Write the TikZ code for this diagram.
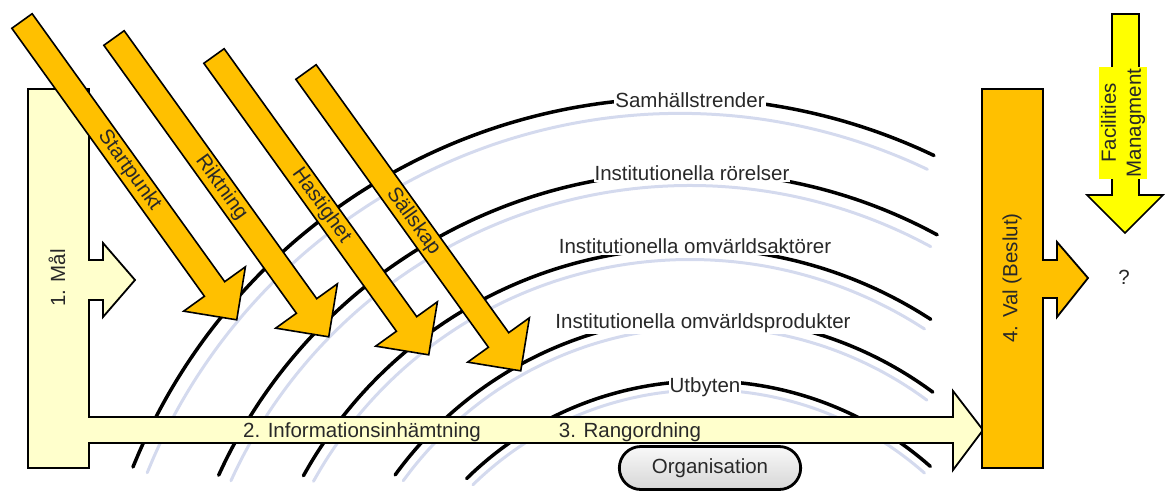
\documentclass[tikz,border=0pt]{standalone}
\usepackage{fontspec}
\setmainfont{Liberation Sans}
\usetikzlibrary{positioning,shapes.misc}
\definecolor{gold}{RGB}{255,192,0}
\definecolor{paleyellow}{RGB}{255,255,204}
\definecolor{signyellow}{RGB}{255,255,0}
\definecolor{shadowblue}{RGB}{212,218,238}
\definecolor{textgrey}{RGB}{40,40,40}
\tikzset{
  ring/.style={line width=3.5pt, line cap=round},
  ringshadow/.style={line width=3pt, draw=shadowblue, line cap=round},
  ringlabel/.style={fill=white, inner xsep=1pt, inner ysep=2pt, anchor=base, text=textgrey},
  goalbox/.style={draw, line width=1.8pt, fill=paleyellow},
  choicebox/.style={draw, line width=1.8pt, fill=gold},
  factor/.style={draw, line width=1.6pt, fill=gold},
  factorlabel/.style={rotate=-54.3, inner sep=0pt, text=textgrey},
  steplabel/.style={anchor=base, inner sep=0pt, text=textgrey},
  fmarrow/.style={draw, line width=1.6pt, fill=signyellow},
  orgbox/.style={rounded rectangle, draw, line width=2.8pt, minimum width=188pt, minimum height=43pt, top color=gray!5, bottom color=gray!32, text=textgrey}
}
% ring: centre x, centre y, radius, start angle, end angle
\newcommand{\ringline}[5]{%
  \draw[ringshadow] plot[smooth, domain=#4:#5, samples=60] ({#1+0.974*#3*cos(\x)}, {#2-0.974*#3*sin(\x)});
  \draw[ring] plot[smooth, domain=#4:#5, samples=60] ({#1+#3*cos(\x)}, {#2-#3*sin(\x)});}

\begin{document}
\begin{tikzpicture}[x=1pt, y=-1pt, font=\fontsize{20.5}{25}\selectfont]
  \useasboundingbox (0,0) rectangle (1170,493);

  % rings
  \ringline{680}{688}{590}{64.5}{158}
  \ringline{690}{690}{518}{61.5}{155.5}
  \ringline{690}{690}{442}{57}{151}
  \ringline{705}{700}{383}{53.5}{144}
  \ringline{705}{721}{340}{48.5}{134.5}

  \node[ringlabel] (trends) at (690,107) {Samhällstrender};
  \node[ringlabel] (moves) at (692,180) {Institutionella rörelser};
  \node[ringlabel] (actors) at (695,253) {Institutionella omvärldsaktörer};
  \node[ringlabel] (products) at (703,328) {Institutionella omvärldsprodukter};
  \node[ringlabel] (exchange) at (705,392) {Utbyten};

  \node[orgbox] (org) at (710,468) {Organisation};

  % goal box with information arrow
  \draw[goalbox] (28,89) -- (89,89) -- (89,260) -- (103,260) -- (103,243) -- (135,280)
    -- (103,317) -- (103,300) -- (89,300) -- (89,417) -- (953,417) -- (953,391)
    -- (983,430) -- (953,470) -- (953,443) -- (89,443) -- (89,468) -- (28,468) -- cycle;
  \node[rotate=90, text=textgrey] (goal) at (57,278) {1. Mål};
  \node[steplabel] (info) at (362,437) {2. Informationsinhämtning};
  \node[steplabel] (rank) at (630,437) {3. Rangordning};

  % factors
  \foreach \tx/\ty/\lbl/\name in {22/21/Startpunkt/start, 114/38/Riktning/heading,
      214/56/Hastighet/speed, 306/72/Sällskap/company} {
    \begin{scope}[shift={(\tx,\ty)}, rotate=-54.3]
      \draw[factor] (0,-12.5) -- (330,-12.5) -- (330,-38) -- (368,0) -- (330,38)
        -- (330,12.5) -- (0,12.5) -- cycle;
      \node[factorlabel] (\name) at (184,0) {\lbl};
    \end{scope}
  }

  % choice
  \draw[choicebox] (982,89) -- (1043,89) -- (1043,260) -- (1057,260) -- (1057,242) -- (1088,278)
    -- (1057,317) -- (1057,298) -- (1043,298) -- (1043,468) -- (982,468) -- cycle;
  \node[rotate=90, text=textgrey] (choice) at (1012,278) {4. Val (Beslut)};
  \node[text=textgrey] (unknown) at (1124,277) {?};

  % facilities management
  \draw[fmarrow] (1112,14) -- (1139,14) -- (1139,195) -- (1163,195) -- (1125,233)
    -- (1087,195) -- (1112,195) -- cycle;
  \node[rotate=90, align=center, fill=signyellow, inner sep=2pt, text=textgrey] (fm) at (1123,123) {Facilities\\Managment};
\end{tikzpicture}
\end{document}
